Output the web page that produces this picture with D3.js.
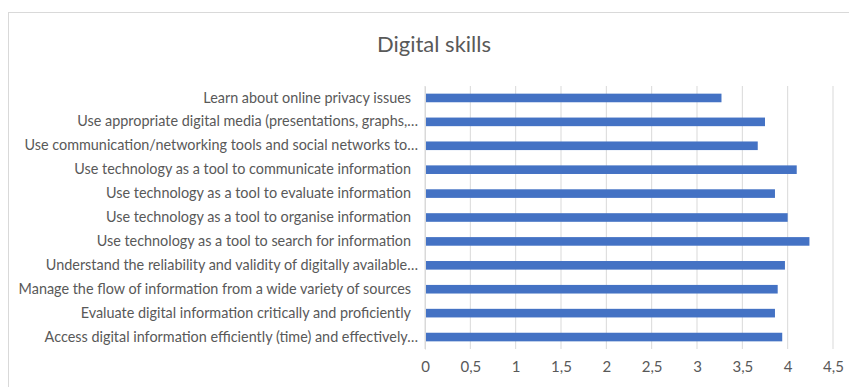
<!DOCTYPE html>
<html>
<head>
<meta charset="utf-8">
<script src="https://cdn.jsdelivr.net/npm/d3@7"></script>
<style>
  body { margin: 0; background: #fff; }
  text { font-family: Lato, "Open Sans", sans-serif; fill: #595959; }
</style>
</head>
<body>
<script>
// chart values
var categories = [
  "Learn about online privacy issues",
  "Use appropriate digital media (presentations, graphs,\u2026",
  "Use communication/networking tools and social networks to\u2026",
  "Use technology as a tool to communicate information",
  "Use technology as a tool to evaluate information",
  "Use technology as a tool to organise information",
  "Use technology as a tool to search for information",
  "Understand the reliability and validity of digitally available\u2026",
  "Manage the flow of information from a wide variety of sources",
  "Evaluate digital information critically and proficiently",
  "Access digital information efficiently (time) and effectively\u2026"
];
var scores = [3.27, 3.75, 3.67, 4.10, 3.86, 4.00, 4.24, 3.97, 3.89, 3.86, 3.94];
var tickValues = [0, 0.5, 1, 1.5, 2, 2.5, 3, 3.5, 4, 4.5];
var title = "Digital skills";

var W = 849, H = 387;
var plotLeft = 425, plotRight = 833, plotTop = 86, plotBottom = 349;

var svg = d3.select("body").append("svg")
  .attr("width", W)
  .attr("height", H);

// outer chart border (partly cut by the picture edge)
svg.append("rect")
  .attr("x", 8.5).attr("y", 12.5)
  .attr("width", W + 10).attr("height", H + 10)
  .attr("fill", "none")
  .attr("stroke", "#d9d9d9");

var x = d3.scaleLinear().domain([0, 4.5]).range([plotLeft, plotRight]);
var y = d3.scaleBand().domain(categories).range([plotTop, plotBottom]).paddingInner(0.64).paddingOuter(0.32);

// vertical gridlines
svg.append("g")
  .selectAll("line")
  .data(tickValues)
  .enter().append("line")
    .attr("x1", function(d){ return x(d); })
    .attr("x2", function(d){ return x(d); })
    .attr("y1", plotTop).attr("y2", plotBottom)
    .attr("stroke", "#d9d9d9")
    .attr("stroke-width", 1);

// bars
svg.append("g")
  .selectAll("rect")
  .data(scores)
  .enter().append("rect")
    .attr("x", x(0))
    .attr("y", function(d, i){ return y(categories[i]); })
    .attr("height", y.bandwidth())
    .attr("width", function(d){ return x(d) - x(0); })
    .attr("fill", "#4472c4");

// x axis labels
var xAxis = d3.axisBottom(x)
  .tickValues(tickValues)
  .tickSize(0)
  .tickPadding(12)
  .tickFormat(function(d){ return String(d).replace(".", ","); });
var gx = svg.append("g").attr("transform", "translate(0," + plotBottom + ")").call(xAxis);
gx.select(".domain").remove();
gx.selectAll("text").style("font-size", "15px").style("font-family", "Lato, sans-serif").attr("fill", "#595959");

// y axis labels (truncated ones sit a bit closer to the axis, like Excel)
var yAxis = d3.axisLeft(y).tickSize(0).tickPadding(14);
var gy = svg.append("g").attr("transform", "translate(" + plotLeft + ",0)").call(yAxis);
gy.select(".domain").attr("stroke", "#d9d9d9");
gy.selectAll("text")
  .style("font-size", "14.4px")
  .style("font-family", "Lato, sans-serif")
  .attr("fill", "#595959")
  .attr("dx", function(d){ return d.slice(-1) === "\u2026" ? 7 : 0; });

// title
svg.append("text")
  .attr("x", 434).attr("y", 52)
  .attr("text-anchor", "middle")
  .style("font-size", "22px")
  .text(title);
</script>
</body>
</html>
